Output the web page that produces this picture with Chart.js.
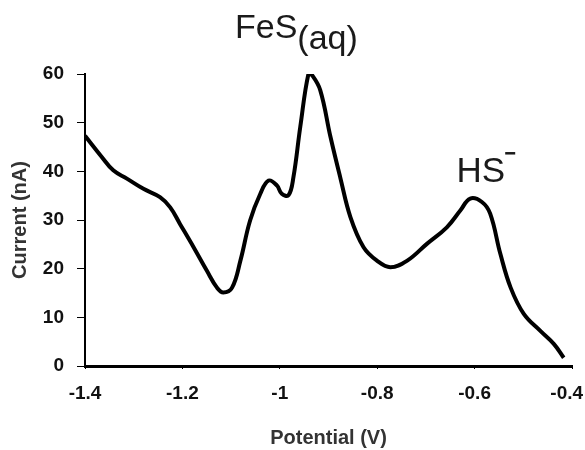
<!DOCTYPE html>
<html>
<head>
<meta charset="utf-8">
<script src="https://cdn.jsdelivr.net/npm/chart.js@4"></script>
<style>
  html, body { margin: 0; padding: 0; background: #fff; }
  #wrap { width: 585px; height: 450px; }
</style>
</head>
<body>
<div id="wrap"><canvas id="chart1"></canvas></div>
<script>
const potential = [-1.4, -1.366, -1.342, -1.314, -1.28, -1.246, -1.225, -1.205, -1.177, -1.15, -1.129, -1.116, -1.098, -1.081, -1.061, -1.04, -1.023, -1.006, -0.996, -0.982, -0.972, -0.958, -0.941, -0.934, -0.917, -0.896, -0.876, -0.855, -0.828, -0.8, -0.773, -0.739, -0.698, -0.657, -0.629, -0.609, -0.585, -0.568, -0.547, -0.526, -0.499, -0.465, -0.437, -0.417];
const current = [47.3, 43.0, 40.2, 38.5, 36.4, 34.7, 32.6, 29.2, 24.4, 19.6, 16.1, 15.1, 16.1, 21.6, 29.9, 35.4, 38.1, 37.1, 35.4, 35.1, 38.8, 49.1, 60.1, 59.8, 56.7, 47.1, 38.8, 30.6, 24.4, 21.6, 20.3, 21.6, 25.1, 28.5, 32.0, 34.4, 33.7, 31.3, 23.0, 16.1, 10.7, 7.2, 4.5, 1.7];
const xTicks = [-1.4, -1.2, -1, -0.8, -0.6, -0.4];

// peak labels, drawn on top of the chart
const peakLabels = {
  id: 'peakLabels',
  afterDraw(chart) {
    const ctx = chart.ctx;
    const xs = chart.scales.x, ys = chart.scales.y;
    ctx.save();
    ctx.fillStyle = '#1a1a1a';
    ctx.textBaseline = 'alphabetic';
    ctx.textAlign = 'left';

    // FeS(aq)
    ctx.font = '34px "Liberation Sans", Arial, sans-serif';
    let x = xs.getPixelForValue(-1.092);
    let y = chart.chartArea.top - 36;
    ctx.fillText('FeS', x, y);
    x += ctx.measureText('FeS').width;
    ctx.fillText('(aq)', x, y + 11);

    // HS-
    ctx.font = '35px "Liberation Sans", Arial, sans-serif';
    x = xs.getPixelForValue(-0.637);
    y = ys.getPixelForValue(37.8);
    ctx.fillText('HS', x, y);
    x += ctx.measureText('HS').width;
    ctx.fillRect(x, y - 30, 10, 2.5);
    ctx.restore();
  }
};

const config1 = {
  type: 'line',
  data: {
    datasets: [{
      data: potential.map((p, i) => ({ x: p, y: current[i] })),
      borderColor: '#000',
      borderWidth: 4,
      pointRadius: 0,
      tension: 0.4,
      fill: false
    }]
  },
  options: {
    responsive: true,
    maintainAspectRatio: false,
    animation: false,
    layout: { padding: { top: 74, left: 4, right: 13, bottom: 0 } },
    plugins: {
      legend: { display: false },
      tooltip: { enabled: false }
    },
    scales: {
      x: {
        type: 'linear',
        min: -1.4,
        max: -0.4,
        afterBuildTicks: (axis) => { axis.ticks = xTicks.map(v => ({ value: v })); },
        afterFit: (axis) => {
          axis.height = 84;
          axis.paddingLeft = 0;
          axis.paddingRight = 0;
        },
        ticks: {
          color: '#111',
          font: { family: '"Liberation Sans", Arial', size: 19, weight: 'bold' },
          padding: 13,
          maxRotation: 0,
          // last label sits a little left of its tick, as in the original
          callback: (v) => v === -0.4 ? String(v) + '\u00a0\u00a0' : String(v)
        },
        grid: { drawOnChartArea: false, drawTicks: true, tickLength: 3, color: '#000' },
        border: { color: '#000', width: 3 },
        title: {
          display: true,
          text: 'Potential (V)',
          color: '#333',
          font: { family: '"Liberation Sans", Arial', size: 20, weight: 'bold' },
          padding: { top: 21, bottom: 0 }
        }
      },
      y: {
        min: 0,
        max: 60,
        afterFit: (axis) => {
          axis.width = 81;
          axis.paddingTop = 0;
          axis.paddingBottom = 0;
        },
        ticks: {
          stepSize: 10,
          color: '#111',
          font: { family: '"Liberation Sans", Arial', size: 19, weight: 'bold' },
          padding: 13
        },
        grid: { drawOnChartArea: false, drawTicks: true, tickLength: 8, color: '#000' },
        border: { color: '#000', width: 2 },
        title: {
          display: true,
          text: 'Current (nA)',
          color: '#333',
          font: { family: '"Liberation Sans", Arial', size: 20, weight: 'bold' },
          padding: { top: 4, bottom: 11 }
        }
      }
    }
  },
  plugins: [peakLabels]
};

const chart1 = new Chart(document.getElementById('chart1'), config1);
</script>
</body>
</html>
